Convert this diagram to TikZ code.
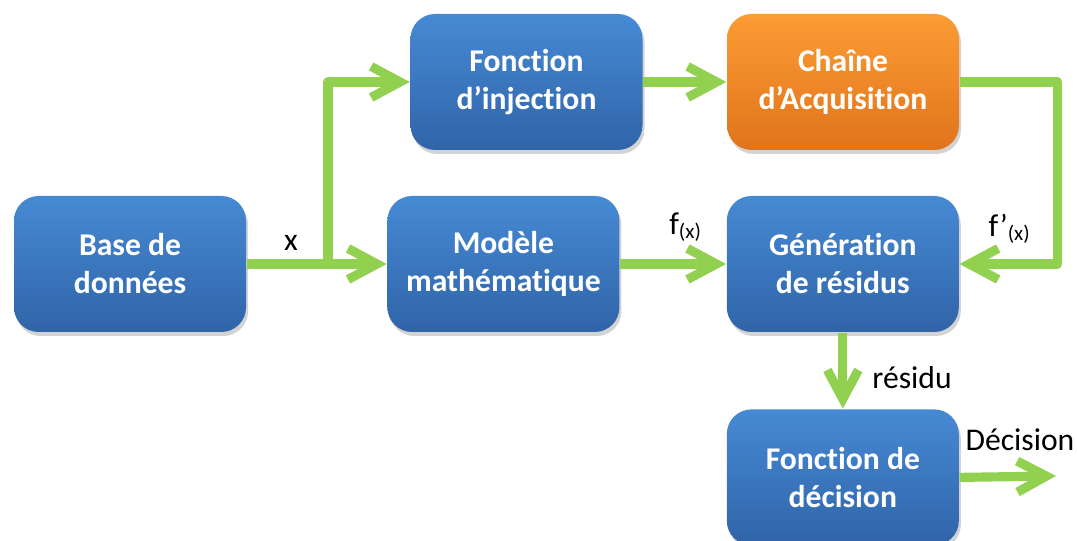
\documentclass[tikz,border=0pt]{standalone}
\usepackage{fontspec}
\setmainfont[Ligatures=NoCommon]{Carlito}
\usetikzlibrary{positioning, arrows.meta, shadows}

\definecolor{boxblue}{RGB}{70,138,212}
\definecolor{boxblued}{RGB}{48,100,168}
\definecolor{boxorange}{RGB}{252,156,52}
\definecolor{boxoranged}{RGB}{224,116,28}
\definecolor{flowgreen}{RGB}{146,208,80}

\begin{document}
\begin{tikzpicture}[
  font=\fontsize{9}{10.8}\selectfont,
  bloc/.style={rounded corners=7pt, minimum width=2.32cm, minimum height=1.36cm, align=center,
    top color=boxblue, bottom color=boxblued, text=white, font=\fontsize{9}{10.8}\selectfont\bfseries,
    drop shadow={opacity=0.35, shadow xshift=0.02cm, shadow yshift=-0.04cm}},
  blocor/.style={bloc, top color=boxorange, bottom color=boxoranged},
  fl/.style={-{Straight Barb[length=2.9mm, width=3.1mm]}, line width=2.6pt, flowgreen, line join=round},
  lab/.style={font=\fontsize{9}{10.8}\selectfont, text=black}
]
\useasboundingbox (0,0) rectangle (10.77,5.41);

% bottom row
\node[bloc] (base) at (1.30,2.77) {Base de\\données};
\node[bloc, right=1.40cm of base] (modele) {Modèle\\mathématique};
\node[bloc, right=1.06cm of modele] (gen) {Génération\\de résidus};
\node[bloc, below=0.76cm of gen] (decision) {Fonction de\\décision};

% top row
\node[bloc] (inj) at (5.265,4.59) {Fonction\\d’injection};
\node[blocor] (chaine) at (8.43,4.59) {Chaîne\\d’Acquisition};

% branch point and free ends
\coordinate (br) at (3.28,2.77);
\coordinate (sortie) at (10.56,0.65);

% connectors
\draw[fl] (base.east) -- (modele.west);
\draw[fl] (br) |- (inj.west);
\draw[fl] (inj.east) -- (chaine.west);
\draw[fl] (chaine.east) -- ++(0.98,0) |- (gen.east);
\draw[fl] (modele.east) -- (gen.west);
\draw[fl] (gen.south) -- (decision.north);
\draw[fl] (decision.east) -- (sortie);

% labels
\node[lab] (lx) at (2.91,2.98) {x};
\node[lab] (lf) at (6.86,3.14) {f\textsubscript{(x)}};
\node[lab] (lfp) at (10.10,3.12) {f’\textsubscript{(x)}};
\node[lab, anchor=west] (lres) at (8.60,1.63) {résidu};
\node[lab] (ldec) at (10.20,1.01) {Décision};
\end{tikzpicture}
\end{document}
